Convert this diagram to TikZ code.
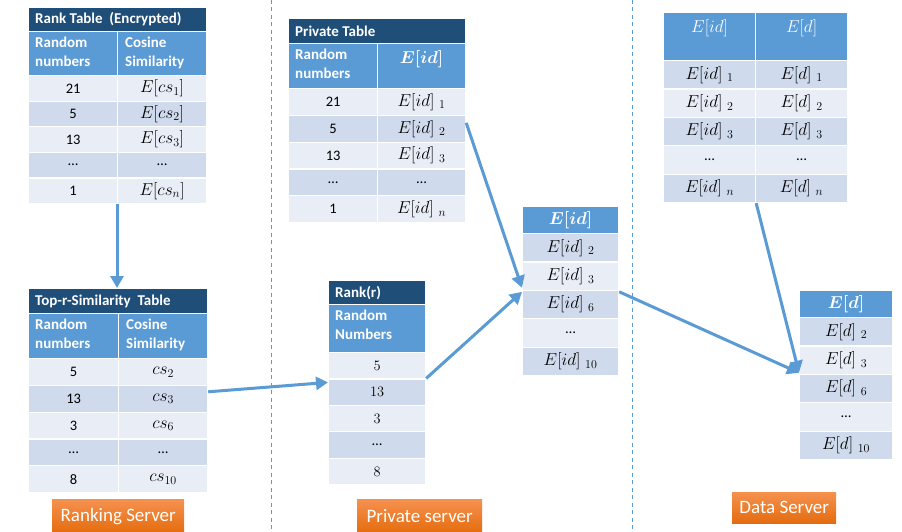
\documentclass[tikz,border=0pt]{standalone}
\usepackage{amsmath}
\usepackage{fontspec}
\setmainfont{Carlito}
\usetikzlibrary{arrows.meta,calc}

\definecolor{titleblue}{HTML}{1F4E79}
\definecolor{headblue}{HTML}{5B9BD5}
\definecolor{rowlight}{HTML}{E9EDF6}
\definecolor{rowdark}{HTML}{CFDAEC}
\definecolor{linkblue}{HTML}{5B9BD5}
\definecolor{orangetop}{HTML}{F5914F}
\definecolor{orangebot}{HTML}{E46C0E}

\tikzset{
  cellbox/.style={draw=white, line width=1.2pt, inner sep=0pt, anchor=north west,
    font=\fontsize{14.5}{17}\selectfont},
  titletext/.style={text=white, font=\bfseries\fontsize{15}{18}\selectfont, anchor=west, inner sep=0pt},
  headtext/.style={text=white, font=\bfseries\fontsize{15}{19}\selectfont, align=left,
    anchor=north west, inner sep=0pt},
  headmath/.style={text=white, font=\fontsize{16.5}{19}\selectfont, inner sep=0pt},
  link/.style={draw=linkblue, line width=3pt, -{Triangle[length=12pt,width=13pt]}},
  divider/.style={draw=linkblue, line width=1pt, dash pattern=on 4pt off 3.5pt},
  serverlabel/.style={top color=orangetop, bottom color=orangebot, text=white,
    font=\fontsize{19}{22}\selectfont, inner sep=0pt, anchor=north west},
}

% one table cell: name, left, top, width, height, fill, content
\newcommand\cell[7]{\node[cellbox, fill=#6, minimum width=#4pt, minimum height=#5pt] (#1) at (#2,#3) {#7};}
\newcommand\cellmath[1]{{\fontsize{16.5}{19}\selectfont$#1$}}
\newcommand\idx[2]{\cellmath{#1\;{}_{#2}}}

\begin{document}
\begin{tikzpicture}[x=1pt,y=-1pt]
\useasboundingbox (0,0) rectangle (902,532);
\fill[white] (0,0) rectangle (902,532);

% server separators
\draw[divider] (271,0) -- (271,532);
\draw[divider] (632,0) -- (632,532);

% ---------------- Rank Table (Encrypted)
\cell{atitle}{28}{7}{178}{24}{titleblue}{}
\node[titletext] (atitletxt) at ($(atitle.west)+(7,0)$) {Rank Table\ \ (Encrypted)};
\cell{ahead1}{28}{31}{89}{44}{headblue}{}
\cell{ahead2}{117}{31}{89}{44}{headblue}{}
\node[headtext] (aheadtxt1) at ($(ahead1.north west)+(7,6)$) {Random\\numbers};
\node[headtext] (aheadtxt2) at ($(ahead2.north west)+(8,6)$) {Cosine\\Similarity};
\cell{ar1a}{28}{75}{89}{25.6}{rowlight}{21}
\cell{ar1b}{117}{75}{89}{25.6}{rowlight}{\cellmath{E[cs_1]}}
\cell{ar2a}{28}{100.6}{89}{25.6}{rowdark}{5}
\cell{ar2b}{117}{100.6}{89}{25.6}{rowdark}{\cellmath{E[cs_2]}}
\cell{ar3a}{28}{126.2}{89}{25.6}{rowlight}{13}
\cell{ar3b}{117}{126.2}{89}{25.6}{rowlight}{\cellmath{E[cs_3]}}
\cell{ar4a}{28}{151.8}{89}{25.6}{rowdark}{…}
\cell{ar4b}{117}{151.8}{89}{25.6}{rowdark}{…}
\cell{ar5a}{28}{177.4}{89}{25.6}{rowlight}{1}
\cell{ar5b}{117}{177.4}{89}{25.6}{rowlight}{\cellmath{E[cs_n]}}

% ---------------- Top-r-Similarity Table
\cell{btitle}{28}{288}{179}{25}{titleblue}{}
\node[titletext] (btitletxt) at ($(btitle.west)+(7,0)$) {Top-r-Similarity\ \ Table};
\cell{bhead1}{28}{313}{90}{45}{headblue}{}
\cell{bhead2}{118}{313}{89}{45}{headblue}{}
\node[headtext] (bheadtxt1) at ($(bhead1.north west)+(7,6)$) {Random\\numbers};
\node[headtext] (bheadtxt2) at ($(bhead2.north west)+(8,6)$) {Cosine\\Similarity};
\cell{br1a}{28}{358}{90}{26.8}{rowlight}{5}
\cell{br1b}{118}{358}{89}{26.8}{rowlight}{\cellmath{cs_2}}
\cell{br2a}{28}{384.8}{90}{26.8}{rowdark}{13}
\cell{br2b}{118}{384.8}{89}{26.8}{rowdark}{\cellmath{cs_3}}
\cell{br3a}{28}{411.6}{90}{26.8}{rowlight}{3}
\cell{br3b}{118}{411.6}{89}{26.8}{rowlight}{\cellmath{cs_6}}
\cell{br4a}{28}{438.4}{90}{26.8}{rowdark}{…}
\cell{br4b}{118}{438.4}{89}{26.8}{rowdark}{…}
\cell{br5a}{28}{465.2}{90}{26.8}{rowlight}{8}
\cell{br5b}{118}{465.2}{89}{26.8}{rowlight}{\cellmath{cs_{10}}}

% ---------------- Private Table
\cell{ctitle}{288}{18}{177}{25}{titleblue}{}
\node[titletext] (ctitletxt) at ($(ctitle.west)+(7,0)$) {Private Table};
\cell{chead1}{288}{43}{89}{45}{headblue}{}
\cell{chead2}{377}{43}{88}{45}{headblue}{}
\node[headtext] (cheadtxt1) at ($(chead1.north west)+(7,6)$) {Random\\numbers};
\node[headmath] (cheadtxt2) at ($(chead2.north)+(0,16)$) {$\boldsymbol{E[id]}$};
\cell{cr1a}{288}{88}{89}{26.8}{rowlight}{21}
\cell{cr1b}{377}{88}{88}{26.8}{rowlight}{\idx{E[id]}{1}}
\cell{cr2a}{288}{114.8}{89}{26.8}{rowdark}{5}
\cell{cr2b}{377}{114.8}{88}{26.8}{rowdark}{\idx{E[id]}{2}}
\cell{cr3a}{288}{141.6}{89}{26.8}{rowlight}{13}
\cell{cr3b}{377}{141.6}{88}{26.8}{rowlight}{\idx{E[id]}{3}}
\cell{cr4a}{288}{168.4}{89}{26.8}{rowdark}{…}
\cell{cr4b}{377}{168.4}{88}{26.8}{rowdark}{…}
\cell{cr5a}{288}{195.2}{89}{26.8}{rowlight}{1}
\cell{cr5b}{377}{195.2}{88}{26.8}{rowlight}{\idx{E[id]}{n}}

% ---------------- Rank(r)
\cell{dtitle}{328}{280}{97}{24}{titleblue}{}
\node[titletext] (dtitletxt) at ($(dtitle.west)+(7,0)$) {Rank(r)};
\cell{dhead}{328}{304}{97}{48}{headblue}{}
\node[headtext] (dheadtxt) at ($(dhead.north west)+(7,6)$) {Random\\Numbers};
\cell{dr1}{328}{352}{97}{26.4}{rowlight}{{\fontsize{15}{18}\selectfont$5$}}
\cell{dr2}{328}{378.4}{97}{26.4}{rowdark}{{\fontsize{15}{18}\selectfont$13$}}
\cell{dr3}{328}{404.8}{97}{26.4}{rowlight}{{\fontsize{15}{18}\selectfont$3$}}
\cell{dr4}{328}{431.2}{97}{26.4}{rowdark}{…}
\cell{dr5}{328}{457.6}{97}{26.4}{rowlight}{{\fontsize{15}{18}\selectfont$8$}}

% ---------------- selected E[id]
\cell{ehead}{522}{206}{96}{27}{headblue}{}
\node[headmath] (eheadtxt) at (ehead.center) {$\boldsymbol{E[id]}$};
\cell{er1}{522}{233}{96}{28.4}{rowdark}{\idx{E[id]}{2}}
\cell{er2}{522}{261.4}{96}{28.4}{rowlight}{\idx{E[id]}{3}}
\cell{er3}{522}{289.8}{96}{28.4}{rowdark}{\idx{E[id]}{6}}
\cell{er4}{522}{318.2}{96}{28.4}{rowlight}{…}
\cell{er5}{522}{346.6}{96}{28.4}{rowdark}{\idx{E[id]}{10}}

% ---------------- data table
\cell{fhead1}{663}{12}{92}{48}{headblue}{}
\cell{fhead2}{755}{12}{92}{48}{headblue}{}
\node[headmath] (fheadtxt1) at ($(fhead1.north)+(0,16)$) {$E[id]$};
\node[headmath] (fheadtxt2) at ($(fhead2.north)+(0,16)$) {$E[d]$};
\cell{fr1a}{663}{60}{92}{28.4}{rowdark}{\idx{E[id]}{1}}
\cell{fr1b}{755}{60}{92}{28.4}{rowdark}{\idx{E[d]}{1}}
\cell{fr2a}{663}{88.4}{92}{28.4}{rowlight}{\idx{E[id]}{2}}
\cell{fr2b}{755}{88.4}{92}{28.4}{rowlight}{\idx{E[d]}{2}}
\cell{fr3a}{663}{116.8}{92}{28.4}{rowdark}{\idx{E[id]}{3}}
\cell{fr3b}{755}{116.8}{92}{28.4}{rowdark}{\idx{E[d]}{3}}
\cell{fr4a}{663}{145.2}{92}{28.4}{rowlight}{…}
\cell{fr4b}{755}{145.2}{92}{28.4}{rowlight}{…}
\cell{fr5a}{663}{173.6}{92}{28.4}{rowdark}{\idx{E[id]}{n}}
\cell{fr5b}{755}{173.6}{92}{28.4}{rowdark}{\idx{E[d]}{n}}

% ---------------- selected E[d]
\cell{ghead}{799}{290}{93}{27}{headblue}{}
\node[headmath] (gheadtxt) at (ghead.center) {$\boldsymbol{E[d]}$};
\cell{gr1}{799}{317}{93}{28.4}{rowdark}{\idx{E[d]}{2}}
\cell{gr2}{799}{345.4}{93}{28.4}{rowlight}{\idx{E[d]}{3}}
\cell{gr3}{799}{373.8}{93}{28.4}{rowdark}{\idx{E[d]}{6}}
\cell{gr4}{799}{402.2}{93}{28.4}{rowlight}{…}
\cell{gr5}{799}{430.6}{93}{28.4}{rowdark}{\idx{E[d]}{10}}

% ---------------- server labels
\node[serverlabel, minimum width=132pt, minimum height=34pt] (rankserver) at (52,499) {Ranking Server};
\node[serverlabel, minimum width=125pt, minimum height=34pt] (privserver) at (357,499) {Private server};
\node[serverlabel, minimum width=104pt, minimum height=31pt] (dataserver) at (732,492) {Data Server};

% ---------------- flow arrows
\draw[link] (ar5b.south west) -- (ar5b.south west |- btitle.north);
\draw[link] ([yshift=7pt]br2b.east) -- ([yshift=-4pt]dr2.north west);
\draw[link] ([yshift=6pt]cr2b.east) -- ([yshift=2pt]er3.north west);
\draw[link] (dr2.north east) -- ([yshift=-2pt]er3.north west);
\draw[link] ([yshift=-2pt]er3.north east) -- ([yshift=1pt]gr3.north west);
\draw[link] (fr5a.south east) -- ([yshift=1pt]gr3.north west);
\end{tikzpicture}
\end{document}
